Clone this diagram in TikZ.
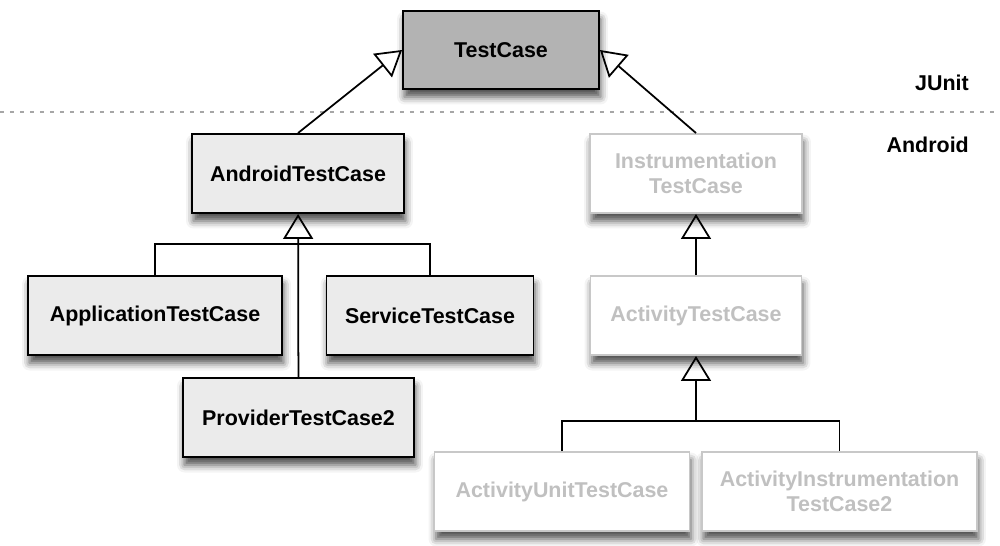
\documentclass[tikz,border=0pt]{standalone}
\usepackage{fontspec}
\setmainfont{Liberation Sans}
\usepackage{xcolor}
\usetikzlibrary{arrows.meta, positioning, shadows.blur}

\definecolor{coregray}{HTML}{B3B3B3}
\definecolor{boxgray}{HTML}{EBEBEB}
\definecolor{fadeline}{HTML}{C8C8C8}
\definecolor{fadetext}{HTML}{C0C0C0}

\begin{document}
\begin{tikzpicture}[
  x=0.02cm, y=-0.02cm,
  cls/.style={draw, line width=1.1pt, fill=boxgray, minimum height=1.58cm,
              align=center, font=\bfseries\fontsize{12.2}{14}\selectfont,
              blur shadow={shadow xshift=0.3mm, shadow yshift=-1.6mm,
                           shadow blur radius=1.5mm, shadow opacity=70}},
  rootcls/.style={cls, fill=coregray, minimum height=1.56cm},
  faded/.style={cls, draw=fadeline, fill=white, text=fadetext},
  inh/.style={-{Triangle[open, length=5mm, width=6mm, line width=1pt]}, line width=1pt},
  link/.style={line width=1pt},
  layer/.style={font=\bfseries\fontsize{12.2}{14}\selectfont, anchor=east}
]
\useasboundingbox (0,0) rectangle (1000,545);

% JUnit / Android split
\draw[gray!70, line width=1.2pt, dash pattern=on 0.08cm off 0.12cm] (0,112) -- (1000,112);
\node[layer] (junit) at (975,83) {JUnit};
\node[layer] (android) at (975,145) {Android};

\node[rootcls, minimum width=3.92cm] (tc) at (501,50) {TestCase};

\node[cls, minimum width=4.24cm] (atc) at (298,173.5) {AndroidTestCase};
\node[cls, minimum width=5.08cm] (app) at (155,315.5) {ApplicationTestCase};
\node[cls, minimum width=4.14cm] (svc) at (430,315.5) {ServiceTestCase};
\node[cls, minimum width=4.62cm] (prov) at (298.5,417.5) {ProviderTestCase2};

\node[faded, minimum width=4.24cm] (inst) at (696,173.5) {Instrumentation\\TestCase};
\node[faded, minimum width=4.22cm] (act) at (696,315.5) {ActivityTestCase};
\node[faded, minimum width=5.1cm] (aut) at (562,491.5) {ActivityUnitTestCase};
\node[faded, minimum width=5.5cm] (ait) at (839.5,491.5) {ActivityInstrumentation\\TestCase2};

\coordinate (ja) at (298,244);
\coordinate (jb) at (696,421);

\draw[inh] (atc.north) -- (tc.west);
\draw[inh] (inst.north) -- (tc.east);

\draw[inh] (prov) -- (atc);
\draw[link] (app.north) |- (ja) -| (svc.north);

\draw[inh] (act) -- (inst);
\draw[inh] (jb) -- (act);
\draw[link] (aut.north) |- (jb) -| (ait.north);
\end{tikzpicture}
\end{document}
